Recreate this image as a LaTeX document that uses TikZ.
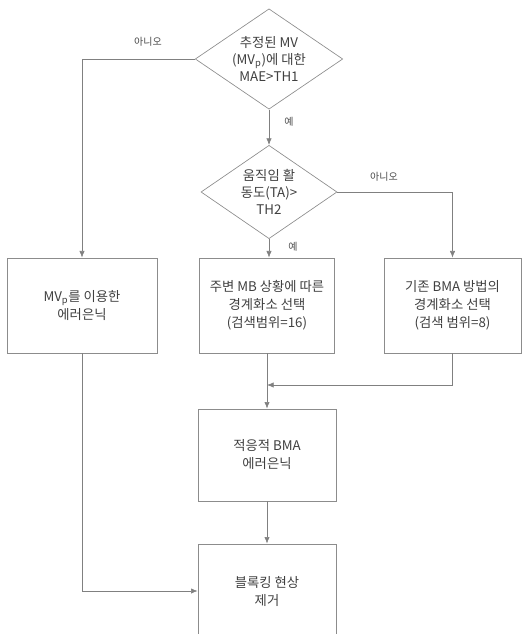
\documentclass[tikz,border=0pt]{standalone}
\usepackage{fontspec}
\setmainfont{Noto Sans CJK KR}
\usetikzlibrary{positioning,shapes.geometric,arrows.meta}

\begin{document}
\begin{tikzpicture}[x=0.75pt,y=-0.75pt,
    line width=0.5pt, draw=black!50,
    box/.style={draw=black!45, rectangle, align=center, text=black!75,
      font=\fontsize{10}{13.5}\selectfont, inner sep=2pt},
    decision/.style={draw=black!45, diamond, aspect=1.47, align=center, inner sep=1pt,
      text=black!75, font=\fontsize{10}{13}\selectfont},
    lbl/.style={text=black!70, font=\fontsize{7.5}{9}\selectfont},
    flow/.style={draw=black!50, -{Latex[length=5pt,width=4pt]}}]
  \useasboundingbox (0,0) rectangle (522,634);
  \clip (0,0) rectangle (522,634);
  % decisions
  \node[decision, minimum width=103.5pt, minimum height=70.5pt] (d1) at (269,59)
    {추정된 MV\\(MV\textsubscript{p})에 대한\\MAE>TH1};
  \node[decision, minimum width=102pt, minimum height=70pt] (d2) at (269,192)
    {움직임 활\\동도(TA)>\\TH2};
  % boxes
  \node[box, minimum width=112.5pt, minimum height=71.25pt] (conceal) at (82,305.5)
    {MV\textsubscript{p}를 이용한\\에러은닉};
  \node[box, minimum width=101.25pt, minimum height=71.25pt] (nbr) at (267,305.5)
    {주변 MB 상황에 따른\\경계화소 선택\\(검색범위=16)};
  \node[box, minimum width=102.75pt, minimum height=71.25pt] (bma) at (452.5,305.5)
    {기존 BMA 방법의\\경계화소 선택\\(검색 범위=8)};
  \node[box, minimum width=103.5pt, minimum height=69pt] (adapt) at (267,455)
    {적응적 BMA\\에러은닉};
  \node[box, minimum width=103.5pt, minimum height=70.5pt] (deblock) at (267,591)
    {블록킹 현상\\제거};
  \coordinate (merge) at (267,385);
  % connectors
  \draw[flow] (d1.west) -| (conceal.north);
  \node[lbl] (no1) at (148,42) {아니오};
  \draw[flow] (d1.south) -- (d2.north);
  \node[lbl] (yes1) at (289,122) {예};
  \draw[flow] (d2.east) -| (bma.north);
  \node[lbl] (no2) at (384,177) {아니오};
  \draw[flow] (d2.south) -- (d2.south |- nbr.north);
  \node[lbl] (yes2) at (293,247) {예};
  \draw[flow] (nbr.south) -- (adapt.north);
  \draw[flow] (bma.south) |- (merge);
  \draw[flow] (adapt.south) -- (deblock.north);
  \draw[flow] (conceal.south) |- (deblock.west);
\end{tikzpicture}
\end{document}
